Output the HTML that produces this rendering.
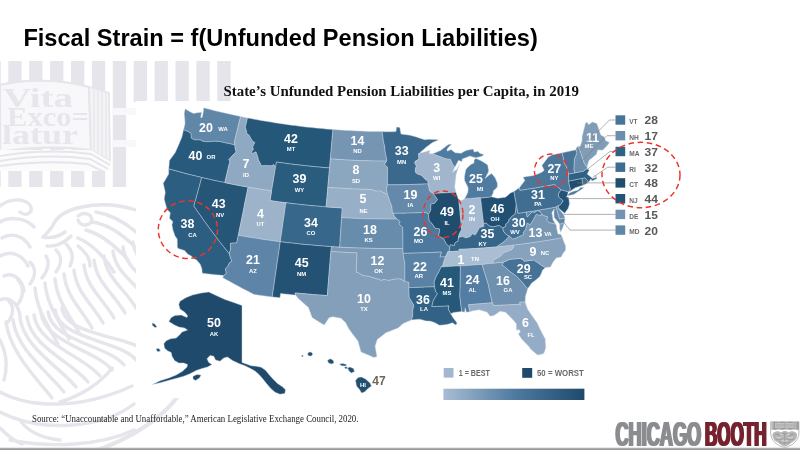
<!DOCTYPE html>
<html lang="en"><head><meta charset="utf-8"><title>Fiscal Strain = f(Unfunded Pension Liabilities)</title>
<style>
html,body{margin:0;padding:0;background:#fff}
body{width:800px;height:450px;overflow:hidden;position:relative}
svg{position:absolute;left:0;top:0;display:block}
#logo text{font-weight:bold;font-size:34.2px}
text{font-family:"Liberation Sans",sans-serif}
.n{font-weight:bold;font-size:12.4px;fill:#fff;text-anchor:middle}
.a{font-size:5.9px;font-weight:bold;fill:#fff;text-anchor:middle}
.sn{font-weight:bold;font-size:11px;fill:#595959}
.sa{font-weight:bold;font-size:6.6px;fill:#6a6a6a}
.lg{font-weight:bold;font-size:8.6px;fill:#6a6a6a}
.st path{stroke:#c9d5e1;stroke-width:.45;stroke-linejoin:round}
.wmt{font-family:'Liberation Serif',serif;font-weight:bold;font-size:27px;fill:#e6e6ec}
.ld{fill:none;stroke:#7a7a7a;stroke-width:.6}
.rd{fill:none;stroke:#ec352c;stroke-width:1.45;stroke-dasharray:5.6 3.6}
</style></head><body>
<svg width="800" height="450" viewBox="0 0 800 450">
<defs>
<pattern id="hatch" x="8.3" y="0" width="20.9" height="10" patternUnits="userSpaceOnUse"><rect x="0" y="0" width="13.3" height="10" fill="#e8e8ee"/></pattern>
<linearGradient id="bar" x1="0" x2="1" y1="0" y2="0"><stop offset="0" stop-color="#a9bdd3"/><stop offset=".5" stop-color="#507ba0"/><stop offset="1" stop-color="#1f4a6b"/></linearGradient>
<linearGradient id="foot" x1="0" x2="0" y1="0" y2="1"><stop offset="0" stop-color="#c9c9c9"/><stop offset=".5" stop-color="#a2a2a2"/><stop offset="1" stop-color="#969696"/></linearGradient>
<pattern id="ch" x="770.7" y="0" width="1.15" height="8" patternUnits="userSpaceOnUse"><rect width="1.15" height="8" fill="#cdcdcd"/><rect width=".55" height="8" fill="#949494"/></pattern>
<filter id="fat" x="-2%" y="-5%" width="104%" height="110%"><feMorphology operator="dilate" radius="1 0"/></filter>
</defs>
<rect width="800" height="450" fill="#fff"/>
<g id="wm">
<rect x="0" y="61" width="0.8" height="126" fill="#e5e5eb"/>
<rect x="8.3" y="61" width="13.3" height="126" fill="#e5e5eb"/>
<rect x="29.2" y="61" width="13.3" height="126" fill="#e5e5eb"/>
<rect x="50.1" y="61" width="13.3" height="126" fill="#e5e5eb"/>
<rect x="71.0" y="61" width="13.3" height="126" fill="#e5e5eb"/>
<rect x="91.9" y="61" width="13.3" height="126" fill="#e5e5eb"/>
<rect x="112.8" y="61" width="13.3" height="126" fill="#e5e5eb"/>
<rect x="133.7" y="61" width="13.3" height="41" fill="#e5e5eb"/>
<rect x="154.6" y="61" width="13.3" height="41" fill="#e5e5eb"/>
<rect x="175.5" y="61" width="13.3" height="41" fill="#e5e5eb"/>
<rect x="196.4" y="61" width="13.3" height="41" fill="#e5e5eb"/>
<rect x="217.3" y="61" width="13.3" height="41" fill="#e5e5eb"/>
<path d="M0,85 C25,79 60,79 89,87 L91,150 C60,146 30,147 0,152 Z" fill="#f8f8fa" stroke="#e5e5eb" stroke-width="2.2"/>
<path d="M89,87 L109,93 L110,161 L91,150 Z" fill="#f4f4f7" stroke="#e5e5eb" stroke-width="1.8"/>
<path d="M94,90V152M98,91V154M102,92V156M106,93V158" fill="none" stroke="#e5e5eb" stroke-width="1.3"/>
<path d="M0,150 L91,150 L110,161 L110,171 L0,171 Z" fill="#fbfbfc"/>
<path d="M0,156 C30,151 60,150 91,154 L110,165 M0,161 C30,156 60,155 90,159 L108,169 M0,166 C30,162 60,161 88,164 L104,172" fill="none" stroke="#e5e5eb" stroke-width="2"/>
<rect x="112" y="108" width="24" height="7" fill="#f8f8fa"/><rect x="112" y="140" width="24" height="7" fill="#f8f8fa"/>
<text class="wmt" x="3" y="107" textLength="70" lengthAdjust="spacingAndGlyphs">Vita</text>
<text class="wmt" x="7" y="125.5" textLength="82" lengthAdjust="spacingAndGlyphs">Exco=</text>
<text class="wmt" x="2" y="144" textLength="76" lengthAdjust="spacingAndGlyphs">latur</text>
<g fill="none" stroke="#e5e5eb" stroke-width="3.4" stroke-linecap="round" stroke-linejoin="round">
<path d="M43,237 C48,233 50,229 52,227 C56,217 66,210 82,207 C100,203 120,205 136,210"/>
<path d="M43,237 C52,239 58,237 65,232 M47,246 C56,247 64,243 71,236"/>
<path d="M78,216 C84,211 92,214 92,221 C88,227 80,226 78,220"/>
<path d="M96,212 C108,214 122,220 136,232 M92,222 C106,224 120,232 134,246 M86,230 C100,234 114,244 128,260 M78,238 C92,244 104,256 114,272"/>
<path d="M66,244 C72,250 74,258 70,266 M56,250 C62,256 62,264 56,272 M78,246 C86,252 90,258 90,266 M46,256 C50,262 48,270 42,278 M30,262 C36,268 36,276 30,284 M18,280 C24,286 24,296 18,304 M8,300 C14,306 14,314 8,322"/>
<path d="M0,206 C10,198 24,198 30,205 C34,213 26,217 20,212 M0,222 C10,216 26,218 34,227 M2,238 C12,232 24,236 30,247 M0,256 C10,250 22,254 28,266 M4,276 C12,272 22,278 24,291 M0,300 C8,296 18,302 20,316"/>
<path d="M35,288 C37,310 48,326 58,344"/>
<path d="M45,283 C47,305 59,321 69,339"/>
<path d="M55,279 C57,301 70,316 80,334"/>
<path d="M64,274 C66,296 82,310 92,328"/>
<path d="M74,270 C76,292 93,305 103,323"/>
<path d="M84,265 C86,287 104,300 114,318"/>
<path d="M94,260 C96,282 115,295 125,313"/>
<path d="M104,256 C106,278 126,290 136,308"/>
<path d="M113,251 C115,273 138,284 148,302"/>
<path d="M123,247 C125,269 149,279 159,297"/>
<path d="M133,242 C135,264 160,274 170,292"/>
<path d="M6,322 C10,352 36,378 52,398"/>
<path d="M13,320 C17,350 48,372 64,392"/>
<path d="M20,318 C24,348 60,367 76,387"/>
<path d="M27,317 C31,347 72,362 88,382"/>
<path d="M34,315 C38,345 84,356 100,376"/>
<path d="M41,313 C45,343 96,350 112,370"/>
<path d="M48,312 C52,342 108,345 124,365"/>
<path d="M55,310 C59,340 120,340 136,360"/>
<path d="M62,308 C66,338 132,334 148,354"/>
<path d="M0,392 C30,408 80,410 132,386 M0,412 C40,432 100,430 134,404 M10,440 C50,448 100,446 134,430 M60,402 C80,396 100,384 112,368 M20,420 C26,430 40,438 60,440 M0,340 C6,352 8,366 4,380 M0,428 C6,434 12,440 22,444"/>
<path d="M178,396 C164,416 134,438 92,452" stroke-width="4"/>
</g>
</g>
<rect x="136" y="101" width="484" height="297" fill="#fff"/>
<text x="23.4" y="46" style="font-weight:bold;font-size:24.3px;fill:#000" textLength="514.4" lengthAdjust="spacingAndGlyphs">Fiscal Strain = f(Unfunded Pension Liabilities)</text>
<text x="223.5" y="96" style="font-family:'Liberation Serif',serif;font-weight:bold;font-size:15.4px;fill:#111" textLength="355.5" lengthAdjust="spacingAndGlyphs">State’s Unfunded Pension Liabilities per Capita, in 2019</text>
<g class="st">
<path d="M203.8,107.8 203.3,111.7 202.8,114.5 202.2,117.4 200.7,117.5 201.1,114.8 201.5,112.2 197.7,112.7 195.7,113.1 193.7,113.6 191.4,112.4 189.1,111.3 187.1,110.1 185.1,108.9 184.2,113.4 184.5,116.5 184.8,119.6 185.0,123.7 184.3,126.8 183.5,129.8 185.7,130.7 188.0,131.6 190.9,133.4 191.1,138.0 194.1,139.8 197.2,139.9 200.3,139.9 203.1,141.4 205.4,141.6 207.7,141.7 211.2,141.5 214.8,141.2 217.2,141.4 219.5,141.5 222.6,142.2 225.6,142.9 228.6,143.5 231.6,144.2 234.7,144.8 234.7,140.6 235.7,136.6 236.7,132.6 237.7,128.5 238.6,124.5 239.6,120.5 240.6,116.5 237.2,115.7 233.8,115.0 230.5,114.3 227.1,113.5 223.8,112.8 220.4,112.0 217.1,111.2 213.7,110.4 210.4,109.5 207.1,108.7Z" fill="#6187a8"/>
<path d="M183.5,129.8 185.7,130.7 188.0,131.6 190.9,133.4 191.1,138.0 194.1,139.8 197.2,139.9 200.3,139.9 203.1,141.4 205.4,141.6 207.7,141.7 211.2,141.5 214.8,141.2 217.2,141.4 219.5,141.5 222.6,142.2 225.6,142.9 228.6,143.5 231.6,144.2 234.7,144.8 235.4,148.9 236.2,152.1 232.7,155.3 230.8,157.4 228.9,159.5 230.0,161.7 228.9,165.2 227.9,169.6 226.9,173.9 225.8,178.3 224.8,182.6 220.9,181.8 217.1,181.0 213.2,180.2 209.4,179.3 205.6,178.4 201.7,177.5 198.1,176.6 194.4,175.7 190.7,174.8 187.0,173.9 183.4,172.9 179.7,171.9 176.0,170.9 172.4,169.9 168.7,168.9 169.1,164.7 169.4,160.5 172.4,156.5 175.3,152.4 176.9,148.8 178.5,145.2 180.2,141.1 181.9,137.0 182.7,133.4Z" fill="#275a7c"/>
<path d="M168.7,168.9 168.7,171.5 168.7,174.0 166.9,177.1 165.1,180.2 163.2,183.2 164.3,187.9 165.3,192.5 164.7,195.7 164.2,198.9 165.5,204.1 167.0,209.4 168.6,211.1 170.3,212.8 169.9,215.5 169.5,218.2 171.2,219.9 172.9,221.7 171.9,225.0 172.5,227.7 173.0,230.3 174.0,233.1 175.0,235.9 177.2,239.0 177.3,242.9 177.3,246.7 178.0,248.4 181.3,249.4 184.5,250.4 186.2,252.4 188.0,254.3 191.2,256.0 194.1,258.7 196.6,259.9 198.3,262.0 200.1,264.0 201.8,268.4 202.3,273.2 206.6,273.7 210.9,274.2 215.3,274.7 219.6,275.1 223.9,275.6 226.4,273.2 225.4,269.0 227.8,266.5 229.5,262.8 232.0,261.2 230.5,258.0 229.3,253.7 225.9,249.5 222.5,245.2 219.1,240.9 215.8,236.5 212.6,232.2 209.4,227.9 206.2,223.5 203.1,219.2 200.0,214.8 196.9,210.4 193.9,206.0 195.0,201.9 196.2,197.9 197.3,193.8 198.4,189.7 199.5,185.7 200.6,181.6 201.7,177.5 198.1,176.6 194.4,175.7 190.7,174.8 187.0,173.9 183.4,172.9 179.7,171.9 176.0,170.9 172.4,169.9Z" fill="#2c5e81"/>
<path d="M201.7,177.5 200.6,181.6 199.5,185.7 198.4,189.7 197.3,193.8 196.2,197.9 195.0,201.9 193.9,206.0 196.9,210.4 200.0,214.8 203.1,219.2 206.2,223.5 209.4,227.9 212.6,232.2 215.8,236.5 219.1,240.9 222.5,245.2 225.9,249.5 229.3,253.7 229.9,251.4 230.6,249.0 230.5,246.2 230.4,243.4 233.6,243.0 236.7,243.1 237.5,239.2 238.3,235.3 239.2,230.9 240.1,226.6 241.0,222.2 241.9,217.8 242.8,213.4 243.7,209.0 244.5,204.6 245.4,200.3 246.3,195.9 247.2,191.5 248.1,187.1 244.2,186.4 240.3,185.7 236.4,185.0 232.5,184.2 228.6,183.4 224.8,182.6 220.9,181.8 217.1,181.0 213.2,180.2 209.4,179.3 205.6,178.4Z" fill="#255577"/>
<path d="M240.6,116.5 239.6,120.5 238.6,124.5 237.7,128.5 236.7,132.6 235.7,136.6 234.7,140.6 234.7,144.8 235.4,148.9 236.2,152.1 232.7,155.3 230.8,157.4 228.9,159.5 230.0,161.7 228.9,165.2 227.9,169.6 226.9,173.9 225.8,178.3 224.8,182.6 228.6,183.4 232.5,184.2 236.4,185.0 240.3,185.7 244.2,186.4 248.1,187.1 252.0,187.8 255.9,188.5 259.8,189.1 263.8,189.7 267.7,190.3 271.6,190.9 272.4,186.1 273.2,181.3 274.0,176.6 274.8,171.8 275.6,167.0 273.4,164.3 272.3,165.8 269.2,165.6 266.2,165.4 264.0,165.5 261.8,165.7 260.9,164.5 258.3,159.6 258.2,158.1 257.1,155.0 256.0,151.8 252.6,153.2 251.2,152.5 253.4,149.4 252.8,146.8 253.8,144.6 254.9,142.3 252.8,141.4 251.0,138.4 249.2,135.3 246.3,132.8 246.9,131.9 245.3,127.2 246.1,124.1 246.8,121.0 247.5,117.9 244.0,117.2Z" fill="#90a9c2"/>
<path d="M247.5,117.9 246.8,121.0 246.1,124.1 245.3,127.2 246.9,131.9 246.3,132.8 249.2,135.3 251.0,138.4 252.8,141.4 254.9,142.3 253.8,144.6 252.8,146.8 253.4,149.4 251.2,152.5 252.6,153.2 256.0,151.8 257.1,155.0 258.2,158.1 258.3,159.6 260.9,164.5 261.8,165.7 264.0,165.5 266.2,165.4 269.2,165.6 272.3,165.8 273.4,164.3 275.6,167.0 276.0,164.5 276.5,162.0 280.0,162.5 283.5,163.0 287.0,163.5 290.6,164.0 294.1,164.4 297.7,164.8 301.2,165.2 304.7,165.6 308.3,166.0 311.8,166.4 315.4,166.7 318.9,167.1 322.5,167.4 326.0,167.7 329.6,167.9 329.9,163.6 330.3,159.4 330.7,155.1 331.1,150.8 331.5,146.5 331.8,142.3 332.2,138.0 332.6,133.7 333.0,129.5 329.5,129.2 326.1,129.0 322.6,128.6 319.2,128.3 315.7,128.0 312.3,127.6 308.9,127.3 305.4,126.9 302.0,126.5 298.6,126.1 295.2,125.6 291.7,125.2 288.3,124.7 284.9,124.2 281.5,123.7 278.1,123.2 274.6,122.7 271.2,122.1 267.8,121.6 264.4,121.0 261.0,120.4 257.6,119.8 254.2,119.2 250.9,118.5Z" fill="#255779"/>
<path d="M276.5,162.0 280.0,162.5 283.5,163.0 287.0,163.5 290.6,164.0 294.1,164.4 297.7,164.8 301.2,165.2 304.7,165.6 308.3,166.0 311.8,166.4 315.4,166.7 318.9,167.1 322.5,167.4 326.0,167.7 329.6,167.9 329.2,172.2 328.8,176.6 328.4,180.9 328.0,185.2 327.7,189.5 327.3,193.8 326.9,198.2 326.5,202.5 326.1,206.9 322.4,206.6 318.6,206.2 314.9,205.9 311.1,205.6 307.4,205.2 303.6,204.8 299.9,204.4 296.1,204.0 292.4,203.6 288.6,203.1 284.9,202.6 281.2,202.2 277.4,201.7 273.7,201.1 270.0,200.6 270.7,196.3 271.4,192.0 272.1,187.7 272.9,183.4 273.6,179.1 274.3,174.8 275.0,170.6 275.7,166.3Z" fill="#2a5c7e"/>
<path d="M248.1,187.1 252.0,187.8 255.9,188.5 259.8,189.1 263.8,189.7 267.7,190.3 271.6,190.9 271.1,194.1 270.5,197.4 270.0,200.6 273.2,201.1 276.4,201.5 279.6,201.9 282.8,202.4 286.0,202.8 285.3,207.1 284.7,211.4 284.1,215.7 283.4,220.1 282.8,224.4 282.2,228.7 281.6,233.0 280.9,237.4 280.3,241.7 276.1,241.2 271.9,240.6 267.7,240.0 263.5,239.4 259.3,238.8 255.1,238.1 250.9,237.5 246.7,236.8 242.5,236.1 238.3,235.3 239.2,230.9 240.1,226.6 241.0,222.2 241.9,217.8 242.8,213.4 243.7,209.0 244.5,204.6 245.4,200.3 246.3,195.9 247.2,191.5Z" fill="#9cb3ca"/>
<path d="M286.0,202.8 289.7,203.2 293.4,203.7 297.2,204.1 300.9,204.5 304.7,204.9 308.4,205.3 312.2,205.7 315.9,206.0 319.7,206.3 323.4,206.6 327.2,206.9 331.0,207.2 334.7,207.5 338.5,207.7 342.2,207.9 342.0,212.3 341.7,216.6 341.4,221.0 341.1,225.3 340.8,229.7 340.5,234.1 340.2,238.4 340.0,242.8 339.7,247.1 335.7,246.9 331.7,246.6 327.8,246.4 323.8,246.1 319.8,245.8 315.9,245.4 311.9,245.1 307.9,244.7 304.0,244.4 300.0,244.0 296.1,243.5 292.1,243.1 288.2,242.7 284.2,242.2 280.3,241.7 280.9,237.4 281.6,233.0 282.2,228.7 282.8,224.4 283.4,220.1 284.1,215.7 284.7,211.4 285.3,207.1Z" fill="#37678a"/>
<path d="M238.3,235.3 242.5,236.1 246.7,236.8 250.9,237.5 255.1,238.1 259.3,238.8 263.5,239.4 267.7,240.0 271.9,240.6 276.1,241.2 280.3,241.7 279.6,246.3 279.0,250.9 278.3,255.5 277.6,260.1 276.9,264.7 276.3,269.3 275.6,273.9 274.9,278.5 274.3,283.1 273.6,287.7 272.9,292.3 272.3,296.9 268.6,296.4 264.9,295.9 261.3,295.4 257.6,294.9 254.0,294.4 250.0,292.3 246.0,290.3 242.0,288.2 238.1,286.1 234.2,284.0 230.3,281.8 226.4,279.7 222.6,277.5 223.9,275.6 226.4,273.2 225.4,269.0 227.8,266.5 229.5,262.8 232.0,261.2 230.5,258.0 229.3,253.7 229.9,251.4 230.6,249.0 230.5,246.2 230.4,243.4 233.6,243.0 236.7,243.1 237.5,239.2Z" fill="#5e85a7"/>
<path d="M280.3,241.7 284.2,242.2 288.2,242.7 292.1,243.1 296.0,243.5 300.0,244.0 303.9,244.4 307.9,244.7 311.8,245.1 315.8,245.4 319.7,245.8 323.7,246.1 327.6,246.4 331.6,246.6 331.2,249.1 330.9,251.5 330.5,255.9 330.2,260.3 329.8,264.7 329.4,269.2 329.1,273.6 328.7,278.0 328.4,282.4 328.0,286.8 327.7,291.2 327.3,295.6 323.3,295.3 319.2,295.0 315.2,294.7 311.2,294.4 307.2,294.0 303.1,293.6 299.1,293.3 295.1,292.9 295.7,295.1 291.9,294.7 288.1,294.3 284.3,293.9 280.6,293.4 280.0,297.8 276.1,297.3 272.3,296.9 272.9,292.3 273.6,287.7 274.3,283.1 274.9,278.5 275.6,273.9 276.3,269.3 276.9,264.7 277.6,260.1 278.3,255.5 279.0,250.9 279.6,246.3Z" fill="#235274"/>
<path d="M333.0,129.5 336.5,129.8 340.0,130.0 343.5,130.2 347.0,130.5 350.5,130.6 354.0,130.8 357.5,131.0 361.0,131.1 364.5,131.2 368.0,131.4 371.5,131.5 375.0,131.5 378.5,131.6 382.0,131.6 382.5,134.0 382.9,136.4 383.2,139.2 383.4,141.9 384.7,146.0 384.9,149.0 385.2,152.0 385.8,155.0 386.5,157.9 386.8,161.1 383.0,161.1 379.2,161.0 375.5,161.0 371.7,160.9 367.9,160.8 364.2,160.7 360.4,160.6 356.7,160.4 352.9,160.3 349.1,160.1 345.4,159.9 341.6,159.6 337.9,159.4 334.1,159.1 330.4,158.9 330.7,154.6 331.1,150.4 331.5,146.2 331.9,142.0 332.2,137.9 332.6,133.7Z" fill="#7595b2"/>
<path d="M330.4,158.9 334.1,159.1 337.9,159.4 341.6,159.6 345.4,159.9 349.1,160.1 352.9,160.3 356.7,160.4 360.4,160.6 364.2,160.7 367.9,160.8 371.7,160.9 375.5,161.0 379.2,161.0 383.0,161.1 386.8,161.1 384.6,164.4 387.6,167.3 387.6,171.7 387.6,176.1 387.5,180.4 387.5,184.8 386.4,188.7 386.9,191.7 387.5,194.6 385.5,193.6 383.2,192.4 380.8,191.1 378.5,191.1 376.1,191.1 373.8,190.3 371.4,189.5 367.8,189.4 364.1,189.3 360.5,189.2 356.9,189.1 353.2,188.9 349.6,188.7 346.0,188.5 342.4,188.3 338.7,188.1 335.1,187.9 331.5,187.6 327.8,187.4 328.3,182.6 328.7,177.8 329.1,173.1 329.5,168.3 330.0,163.6Z" fill="#8ba6bf"/>
<path d="M327.8,187.4 331.5,187.6 335.1,187.9 338.7,188.1 342.4,188.3 346.0,188.5 349.6,188.7 353.2,188.9 356.9,189.1 360.5,189.2 364.1,189.3 367.8,189.4 371.4,189.5 373.8,190.3 376.1,191.1 378.5,191.1 380.8,191.1 383.2,192.4 385.5,193.6 387.5,194.6 388.7,197.5 389.5,200.0 390.3,202.4 391.9,206.3 392.1,208.8 392.3,211.2 393.0,213.4 394.8,216.6 396.9,219.0 392.9,219.1 389.0,219.1 385.0,219.1 381.1,219.0 377.1,219.0 373.2,218.9 369.2,218.8 365.3,218.7 361.3,218.6 357.4,218.5 353.4,218.3 349.5,218.1 345.6,217.9 341.6,217.7 341.8,214.5 342.0,211.2 342.2,207.9 339.0,207.7 335.8,207.5 332.6,207.3 329.3,207.1 326.1,206.9 326.5,202.9 326.8,199.0 327.2,195.1 327.5,191.2Z" fill="#98b0c7"/>
<path d="M341.6,217.7 345.6,217.9 349.5,218.1 353.4,218.3 357.4,218.5 361.3,218.6 365.3,218.7 369.2,218.8 373.2,218.9 377.1,219.0 381.1,219.0 385.0,219.1 389.0,219.1 392.9,219.1 396.9,219.0 400.2,221.5 399.0,223.9 402.8,227.6 402.8,231.8 402.9,235.9 402.9,240.1 403.0,244.3 403.0,248.4 398.8,248.5 394.5,248.5 390.3,248.5 386.1,248.5 381.9,248.5 377.7,248.5 373.4,248.4 369.2,248.3 365.0,248.2 360.8,248.1 356.5,247.9 352.3,247.8 348.1,247.6 343.9,247.4 339.7,247.1 340.0,242.9 340.2,238.7 340.5,234.5 340.8,230.3 341.1,226.1 341.3,221.9Z" fill="#688cac"/>
<path d="M331.6,246.6 335.8,246.9 340.0,247.2 344.2,247.4 348.4,247.6 352.6,247.8 356.8,247.9 361.0,248.1 365.2,248.2 369.4,248.3 373.6,248.4 377.8,248.5 382.0,248.5 386.2,248.5 390.4,248.5 394.6,248.5 398.8,248.5 403.0,248.4 403.0,250.9 403.1,253.3 403.7,256.9 404.3,260.5 404.9,264.1 404.9,268.5 404.9,272.8 404.9,277.1 404.9,281.4 402.5,280.2 400.2,278.9 398.0,279.0 395.8,279.0 392.2,279.7 388.7,280.5 386.4,280.0 384.2,279.5 381.1,280.4 377.1,278.9 373.6,277.9 371.0,277.1 368.3,276.3 365.7,276.0 363.0,275.7 359.6,273.6 356.1,271.9 356.3,267.2 356.5,262.4 356.7,257.6 356.9,252.9 353.2,252.7 349.5,252.6 345.8,252.4 342.0,252.2 338.3,252.0 334.6,251.8 330.9,251.5 331.2,249.1Z" fill="#7c9ab6"/>
<path d="M330.9,251.5 334.6,251.8 338.3,252.0 342.0,252.2 345.8,252.4 349.5,252.6 353.2,252.7 356.9,252.9 356.7,257.6 356.5,262.4 356.3,267.2 356.1,271.9 359.6,273.6 363.0,275.7 365.7,276.0 368.3,276.3 371.0,277.1 373.6,277.9 377.1,278.9 381.1,280.4 384.2,279.5 386.4,280.0 388.7,280.5 392.2,279.7 395.8,279.0 398.0,279.0 400.2,278.9 402.5,280.2 404.9,281.4 408.8,282.2 408.9,284.9 408.9,287.6 409.0,290.9 409.1,294.2 409.2,297.4 411.5,301.3 413.9,305.2 413.3,308.1 412.6,311.1 412.7,313.5 412.8,315.9 411.5,319.9 407.3,321.7 403.2,323.5 400.6,325.7 398.1,327.9 394.0,329.6 389.9,331.2 385.8,332.8 381.5,336.2 377.2,339.6 376.1,343.0 375.1,346.3 375.7,349.7 376.3,353.1 376.9,356.5 374.0,357.5 371.1,356.2 368.2,354.9 364.6,353.4 361.0,351.9 360.0,348.3 359.0,344.7 358.0,341.1 354.9,337.1 351.9,333.1 349.0,329.1 347.2,325.8 345.5,322.6 343.3,320.4 341.1,318.2 336.9,317.5 332.8,316.7 329.0,317.8 326.6,321.4 324.2,325.1 320.1,322.6 316.1,320.1 312.1,317.5 310.9,314.1 309.7,310.8 308.4,307.4 305.0,304.5 301.7,301.5 298.3,298.6 295.7,295.1 295.1,292.9 299.1,293.3 303.1,293.6 307.2,294.0 311.2,294.4 315.2,294.7 319.2,295.0 323.3,295.3 327.3,295.6 327.7,291.2 328.0,286.8 328.4,282.4 328.7,278.0 329.1,273.6 329.4,269.2 329.8,264.7 330.2,260.3 330.5,255.9Z" fill="#839fb9"/>
<path d="M382.0,131.6 385.5,131.7 389.0,131.7 392.5,131.7 395.9,131.6 396.3,129.2 396.6,126.9 399.8,127.6 400.4,130.8 401.0,134.0 403.9,134.4 406.8,134.8 409.8,135.2 413.0,136.1 416.4,136.9 419.1,137.9 421.8,138.8 424.5,139.7 426.9,139.5 429.2,139.2 432.1,139.4 434.9,139.6 437.7,139.8 438.4,139.9 435.5,141.2 432.5,142.4 429.5,144.7 426.4,147.0 423.1,149.9 420.0,152.5 420.8,153.1 418.6,153.6 418.8,156.4 418.9,159.3 415.5,161.0 414.7,162.8 416.4,165.9 415.4,169.3 415.5,172.2 417.5,173.9 419.7,174.6 421.8,175.4 424.7,178.7 427.9,180.9 428.3,183.9 424.6,184.0 420.9,184.2 417.2,184.3 413.5,184.4 409.8,184.6 406.1,184.6 402.4,184.7 398.7,184.8 395.0,184.8 391.2,184.8 387.5,184.8 387.5,180.4 387.6,176.1 387.6,171.7 387.6,167.3 384.6,164.4 386.8,161.1 386.5,157.9 385.8,155.0 385.2,152.0 384.9,149.0 384.7,146.0 383.4,141.9 383.2,139.2 382.9,136.4 382.5,134.0Z" fill="#3a698d"/>
<path d="M387.5,184.8 391.2,184.8 395.0,184.8 398.7,184.8 402.4,184.7 406.1,184.6 409.8,184.6 413.5,184.4 417.2,184.3 420.9,184.2 424.6,184.0 428.3,183.9 429.1,188.2 429.7,191.1 433.4,193.4 435.5,196.5 437.6,199.6 434.8,203.2 432.9,203.7 430.9,204.3 430.8,207.2 430.8,210.2 428.5,214.4 425.8,212.4 422.2,212.5 418.5,212.7 414.9,212.9 411.2,213.0 407.6,213.1 403.9,213.2 400.3,213.3 396.6,213.3 393.0,213.4 392.3,211.2 392.1,208.8 391.9,206.3 390.3,202.4 389.5,200.0 388.7,197.5 387.5,194.6 386.9,191.7 386.4,188.7Z" fill="#6489aa"/>
<path d="M393.0,213.4 396.6,213.3 400.3,213.3 403.9,213.2 407.6,213.1 411.2,213.0 414.9,212.9 418.5,212.7 422.2,212.5 425.8,212.4 428.5,214.4 428.9,218.8 429.4,221.0 432.0,223.4 433.6,225.8 435.2,228.2 437.3,228.5 439.4,228.7 439.7,231.2 438.6,235.5 441.7,237.8 443.4,238.2 444.9,241.1 446.4,244.0 449.8,246.9 449.5,250.7 447.8,251.8 446.7,254.3 445.6,256.8 442.7,256.9 439.9,257.1 440.6,254.6 441.4,252.1 437.2,252.2 432.9,252.4 428.6,252.6 424.4,252.7 420.1,252.9 415.9,253.0 411.6,253.2 407.3,253.3 403.1,253.3 403.0,250.9 403.0,248.4 403.0,244.3 402.9,240.1 402.9,235.9 402.8,231.8 402.8,227.6 399.0,223.9 400.2,221.5 396.9,219.0 394.8,216.6Z" fill="#4d799e"/>
<path d="M403.1,253.3 407.3,253.3 411.6,253.2 415.9,253.0 420.1,252.9 424.4,252.7 428.6,252.6 432.9,252.4 437.2,252.2 441.4,252.1 440.6,254.6 439.9,257.1 442.7,256.9 445.6,256.8 444.7,259.3 443.8,261.8 442.8,265.8 441.1,266.9 440.0,269.4 438.8,271.9 437.4,274.4 436.0,276.9 435.1,279.4 434.1,281.9 434.4,284.3 434.6,286.8 430.4,286.9 426.1,287.1 421.8,287.3 417.5,287.4 413.2,287.5 408.9,287.6 408.9,284.9 408.8,282.2 404.9,281.4 404.9,277.1 404.9,272.8 404.9,268.5 404.9,264.1 404.3,260.5 403.7,256.9Z" fill="#5a82a5"/>
<path d="M408.9,287.6 413.2,287.5 417.5,287.4 421.8,287.3 426.1,287.1 430.4,286.9 434.6,286.8 435.1,289.2 435.6,291.7 437.5,293.6 435.4,297.1 433.3,300.6 432.6,303.5 431.8,306.5 436.1,306.4 440.4,306.2 444.7,306.0 449.0,305.8 448.3,309.1 450.8,313.8 452.9,317.4 455.0,320.2 457.1,323.0 455.9,325.1 452.4,322.8 449.6,323.7 446.9,324.5 443.1,324.9 439.4,325.3 435.5,323.0 433.1,322.1 430.7,321.2 428.4,321.0 426.0,320.9 422.7,320.0 419.4,319.2 415.5,319.5 411.5,319.9 412.8,315.9 412.7,313.5 412.6,311.1 413.3,308.1 413.9,305.2 411.5,301.3 409.2,297.4 409.1,294.2 409.0,290.9Z" fill="#326386"/>
<path d="M420.8,153.1 423.7,152.2 426.6,151.4 429.9,150.2 429.0,153.7 432.6,153.8 436.0,155.1 439.4,156.3 442.8,157.5 445.1,158.5 447.8,158.9 450.5,159.2 451.7,161.9 452.9,164.6 455.0,166.9 453.7,169.6 452.5,172.4 454.6,170.8 456.8,169.2 459.4,164.6 458.5,167.1 457.6,169.6 456.9,172.1 456.1,174.6 455.8,177.3 455.5,180.0 455.1,183.5 454.6,186.9 455.3,189.6 455.9,192.2 452.2,192.5 448.4,192.7 444.7,192.9 440.9,193.1 437.2,193.3 433.4,193.4 429.7,191.1 429.1,188.2 428.3,183.9 427.9,180.9 424.7,178.7 421.8,175.4 419.7,174.6 417.5,173.9 415.5,172.2 415.4,169.3 416.4,165.9 414.7,162.8 415.5,161.0 418.9,159.3 418.8,156.4 418.6,153.6Z" fill="#a1b6cd"/>
<path d="M433.4,193.4 437.2,193.3 440.9,193.1 444.7,192.9 448.4,192.7 452.2,192.5 455.9,192.2 457.0,195.3 458.1,198.5 458.9,199.9 459.3,204.5 459.8,209.1 460.2,213.7 460.6,218.3 461.1,222.9 460.7,225.4 461.9,229.2 460.2,232.3 458.8,235.4 458.4,238.3 458.1,241.3 455.2,242.5 454.2,245.7 450.3,244.7 449.8,246.9 446.4,244.0 444.9,241.1 443.4,238.2 441.7,237.8 438.6,235.5 439.7,231.2 439.4,228.7 437.3,228.5 435.2,228.2 433.6,225.8 432.0,223.4 429.4,221.0 428.9,218.8 428.5,214.4 430.8,210.2 430.8,207.2 430.9,204.3 432.9,203.7 434.8,203.2 437.6,199.6 435.5,196.5Z" fill="#204c6d"/>
<path d="M458.9,199.9 461.5,200.4 464.4,198.9 467.6,198.6 470.8,198.4 474.0,198.1 477.2,197.8 480.5,197.5 481.0,201.8 481.5,206.1 482.1,210.5 482.6,214.8 483.1,219.1 483.7,223.5 483.8,226.4 481.6,227.1 479.4,227.8 477.0,232.3 475.2,235.1 472.5,233.8 470.3,236.5 468.2,237.2 466.2,238.0 462.3,236.6 459.4,237.3 458.4,238.3 458.8,235.4 460.2,232.3 461.9,229.2 460.7,225.4 461.1,222.9 460.6,218.3 460.2,213.7 459.8,209.1 459.3,204.5Z" fill="#a5bad0"/>
<path d="M480.5,198.1 484.1,197.6 487.7,197.2 491.2,196.7 494.3,197.5 497.5,198.2 500.1,197.9 502.8,197.6 505.4,197.2 507.9,195.2 510.4,193.1 514.0,191.4 514.7,195.7 515.5,200.0 516.3,204.3 516.1,206.7 515.7,210.1 515.2,213.8 513.0,215.6 510.8,217.4 510.2,218.8 508.7,219.7 509.0,221.6 505.7,224.0 506.0,226.0 502.9,228.1 499.2,225.5 496.0,226.2 492.9,227.0 489.2,225.9 486.3,223.2 483.7,223.5 483.1,219.2 482.6,215.0 482.1,210.8 481.6,206.5 481.1,202.3Z" fill="#225072"/>
<path d="M464.4,198.9 467.6,198.6 470.8,198.4 474.0,198.1 477.2,197.8 480.5,197.5 480.5,198.1 484.1,197.6 487.7,197.2 491.2,196.7 493.1,193.3 493.5,190.6 495.0,189.6 497.3,186.9 497.4,183.4 496.3,180.6 495.1,177.8 491.7,173.5 488.5,175.6 486.8,177.0 485.0,178.4 487.5,173.7 488.7,171.1 488.2,168.0 487.7,164.9 484.4,162.8 481.0,160.7 478.4,159.6 475.8,158.5 474.1,159.9 474.0,162.9 470.8,164.6 468.9,166.3 467.0,167.9 465.7,169.9 465.1,173.2 464.5,176.4 464.5,180.3 466.0,183.4 467.6,186.4 468.2,188.8 467.8,192.3 465.9,196.4Z" fill="#507ba0"/>
<path d="M432.6,153.8 435.3,152.7 438.0,151.6 440.7,150.4 443.5,148.2 446.0,146.3 448.4,144.5 451.7,144.3 448.6,146.9 447.0,149.4 447.1,151.1 449.1,150.4 451.1,149.6 453.1,151.2 455.1,152.7 458.1,153.0 461.2,153.3 463.6,151.8 466.1,150.4 469.6,149.8 473.1,149.1 474.2,152.1 476.0,151.7 477.8,151.3 480.0,153.5 482.0,154.0 483.9,154.5 481.9,156.2 478.9,157.0 475.9,157.7 472.8,156.9 469.8,156.1 467.6,157.0 465.5,157.8 462.2,159.0 462.1,161.5 459.3,160.7 458.5,160.3 456.8,163.6 455.0,166.9 452.9,164.6 451.7,161.9 450.5,159.2 447.8,158.9 445.1,158.5 442.8,157.5 439.4,156.3 436.0,155.1Z" fill="#507ba0"/>
<path d="M449.8,246.9 450.3,244.7 454.2,245.7 455.2,242.5 458.1,241.3 458.4,238.3 459.4,237.3 462.3,236.6 466.2,238.0 468.2,237.2 470.3,236.5 472.5,233.8 475.2,235.1 477.0,232.3 479.4,227.8 481.6,227.1 483.8,226.4 483.7,223.5 486.3,223.2 489.2,225.9 492.9,227.0 496.0,226.2 499.2,225.5 502.9,228.1 503.4,231.2 506.5,234.8 509.5,236.0 506.9,238.8 504.2,241.6 500.4,244.2 496.5,246.9 492.4,247.3 488.2,247.6 484.0,247.9 479.9,248.2 475.7,248.5 471.6,248.7 467.4,248.9 463.2,249.2 459.0,249.3 459.2,251.1 455.4,251.3 451.6,251.6 447.8,251.8 449.5,250.7Z" fill="#356588"/>
<path d="M496.5,246.9 492.4,247.3 488.2,247.6 484.0,247.9 479.9,248.2 475.7,248.5 471.6,248.7 467.4,248.9 463.2,249.2 459.0,249.3 459.2,251.1 455.4,251.3 451.6,251.6 447.8,251.8 446.7,254.3 445.6,256.8 444.7,259.3 443.8,261.8 442.8,265.8 441.1,266.9 444.8,266.7 448.5,266.5 452.1,266.3 455.8,266.1 459.4,265.9 463.2,265.7 467.0,265.4 470.8,265.2 474.6,264.9 478.3,264.7 482.1,264.4 485.8,264.0 489.5,263.6 493.2,263.2 493.1,261.1 495.4,258.9 497.5,257.9 499.5,256.8 501.5,255.3 504.1,252.5 506.6,251.7 509.1,250.8 511.5,249.9 513.7,247.4 513.5,245.0 510.1,245.4 506.7,245.8 503.3,246.2 499.9,246.5Z" fill="#a9bdd3"/>
<path d="M434.6,286.8 434.4,284.3 434.1,281.9 435.1,279.4 436.0,276.9 437.4,274.4 438.8,271.9 440.0,269.4 441.1,266.9 444.8,266.7 448.5,266.5 452.1,266.3 455.8,266.1 459.4,265.9 460.4,266.8 460.4,270.8 460.3,274.7 460.3,278.7 460.2,282.6 460.2,286.5 460.0,289.8 459.9,293.1 459.8,296.4 460.3,300.2 460.7,304.0 461.2,307.7 461.7,311.5 457.6,312.0 453.5,312.5 450.8,313.8 448.3,309.1 449.0,305.8 444.7,306.0 440.4,306.2 436.1,306.4 431.8,306.5 432.6,303.5 433.3,300.6 435.4,297.1 437.5,293.6 435.6,291.7 435.1,289.2Z" fill="#26587a"/>
<path d="M461.7,311.5 461.2,307.7 460.7,304.0 460.3,300.2 459.8,296.4 459.9,293.1 460.0,289.8 460.2,286.5 460.2,282.6 460.3,278.7 460.3,274.7 460.4,270.8 460.4,266.8 459.4,265.9 463.2,265.7 467.0,265.4 470.8,265.2 474.6,264.9 478.3,264.7 482.1,264.4 483.3,268.4 484.6,272.5 485.8,276.5 487.1,280.6 488.3,284.6 489.0,287.9 489.6,291.1 490.4,294.3 491.1,297.4 491.7,300.1 492.3,302.7 488.3,303.1 484.4,303.4 480.4,303.8 476.4,304.1 472.5,304.4 468.5,304.7 469.2,308.2 469.9,311.7 466.4,312.2 465.1,307.9 464.6,312.3Z" fill="#537da2"/>
<path d="M482.1,264.4 485.8,264.0 489.5,263.6 493.2,263.2 496.7,262.8 500.2,262.4 503.7,262.0 502.0,265.1 504.4,266.4 507.0,268.8 509.6,271.2 512.9,273.5 516.2,275.9 519.2,279.0 522.2,282.0 525.2,286.1 527.8,288.4 526.7,292.2 525.5,296.0 525.3,299.0 525.1,302.0 522.3,302.1 519.5,302.2 520.5,305.5 518.5,304.3 514.4,304.6 510.3,304.8 506.2,305.0 502.1,305.2 498.0,305.4 493.9,305.5 492.3,302.7 491.7,300.1 491.1,297.4 490.4,294.3 489.6,291.1 489.0,287.9 488.3,284.6 487.1,280.6 485.8,276.5 484.6,272.5 483.3,268.4Z" fill="#6f91af"/>
<path d="M469.9,311.7 472.8,310.8 476.0,310.3 479.2,309.8 483.1,310.9 486.9,312.1 490.2,316.2 493.9,315.4 496.9,313.4 499.9,311.3 502.8,311.8 505.6,312.2 508.9,315.5 512.3,318.9 514.3,321.3 516.3,323.8 516.4,327.0 516.4,330.2 519.1,329.4 520.4,331.7 518.4,333.9 520.0,336.4 521.6,338.9 523.6,341.1 525.7,343.3 529.2,346.8 530.5,349.1 534.0,352.0 537.5,355.0 540.4,354.4 543.2,353.7 544.4,352.1 545.8,347.5 545.4,343.1 545.1,338.7 543.1,335.1 541.2,331.4 539.2,327.3 537.2,323.1 535.0,319.9 532.8,316.8 530.3,313.2 527.8,309.6 526.9,307.2 526.0,304.8 525.1,302.0 522.3,302.1 519.5,302.2 520.5,305.5 518.5,304.3 514.4,304.6 510.3,304.8 506.2,305.0 502.1,305.2 498.0,305.4 493.9,305.5 492.3,302.7 488.3,303.1 484.4,303.4 480.4,303.8 476.4,304.1 472.5,304.4 468.5,304.7 469.2,308.2Z" fill="#94acc5"/>
<path d="M527.8,288.4 525.2,286.1 522.2,282.0 519.2,279.0 516.2,275.9 512.9,273.5 509.6,271.2 507.0,268.8 504.4,266.4 502.0,265.1 503.7,262.0 505.4,261.3 507.7,260.3 510.0,259.3 513.7,259.0 517.5,258.6 521.3,258.3 521.4,259.3 522.4,258.7 524.0,261.2 527.2,260.8 530.5,260.4 533.8,260.0 537.6,262.6 541.4,265.2 545.3,267.7 542.6,270.1 541.1,273.9 539.8,276.6 537.7,278.4 535.5,280.2 533.5,281.7 531.5,283.3 529.3,286.5Z" fill="#457296"/>
<path d="M513.5,245.0 513.7,247.4 511.5,249.9 509.1,250.8 506.6,251.7 504.1,252.5 501.5,255.3 499.5,256.8 497.5,257.9 495.4,258.9 493.1,261.1 493.2,263.2 496.7,262.8 500.2,262.4 503.7,262.0 505.4,261.3 507.7,260.3 510.0,259.3 513.7,259.0 517.5,258.6 521.3,258.3 521.4,259.3 522.4,258.7 524.0,261.2 527.2,260.8 530.5,260.4 533.8,260.0 537.6,262.6 541.4,265.2 545.3,267.7 547.9,267.3 550.5,266.9 552.8,262.5 554.5,260.2 556.2,257.9 558.6,257.5 561.0,257.1 563.2,253.1 565.6,250.2 565.5,245.7 564.5,243.3 563.5,241.0 562.5,237.7 558.5,238.4 554.4,239.1 550.3,239.8 546.3,240.4 542.2,241.1 538.1,241.7 534.0,242.3 529.9,242.9 525.8,243.4 521.7,244.0 517.6,244.5Z" fill="#87a2bc"/>
<path d="M496.5,246.9 499.9,246.5 503.3,246.2 506.7,245.8 510.1,245.4 513.5,245.0 517.6,244.5 521.7,244.0 525.8,243.4 529.9,242.9 534.0,242.3 538.1,241.7 542.2,241.1 546.3,240.4 550.3,239.8 554.4,239.1 558.5,238.4 562.5,237.7 560.6,234.2 558.0,234.0 557.3,231.3 556.7,228.7 556.4,225.2 555.5,224.0 552.4,223.2 549.3,222.5 546.8,220.4 547.7,216.8 543.6,215.5 541.3,213.6 540.8,215.6 538.5,214.9 536.2,214.2 534.6,217.2 533.0,220.2 530.2,224.6 527.0,223.1 526.3,226.2 525.6,229.3 523.2,232.6 523.6,234.6 519.8,236.3 516.0,238.1 512.5,239.1 509.5,236.0 506.9,238.8 504.2,241.6 500.4,244.2Z" fill="#7998b4"/>
<path d="M564.4,222.4 563.5,225.3 562.6,228.1 560.6,232.3 559.7,228.6 559.6,224.1 561.2,223.8Z" fill="#7998b4"/>
<path d="M502.9,228.1 506.0,226.0 505.7,224.0 509.0,221.6 508.7,219.7 510.2,218.8 510.8,217.4 513.0,215.6 515.2,213.8 515.7,210.1 516.1,206.7 516.3,204.3 517.1,208.8 517.9,213.3 520.7,212.9 523.5,212.5 526.3,212.0 526.7,214.6 527.2,217.1 530.2,213.8 532.2,211.8 535.0,212.4 536.7,210.6 539.7,211.1 541.3,213.6 540.8,215.6 538.5,214.9 536.2,214.2 534.6,217.2 533.0,220.2 530.2,224.6 527.0,223.1 526.3,226.2 525.6,229.3 523.2,232.6 523.6,234.6 519.8,236.3 516.0,238.1 512.5,239.1 509.5,236.0 506.5,234.8 503.4,231.2Z" fill="#427094"/>
<path d="M541.3,213.6 543.6,215.5 547.7,216.8 546.8,220.4 549.3,222.5 552.4,223.2 555.5,224.0 553.0,219.8 552.4,215.4 551.8,212.5 554.4,209.0 553.9,212.6 554.1,215.1 554.2,217.6 557.7,221.5 559.6,224.1 561.2,223.8 564.4,222.4 565.0,218.1 562.3,218.5 559.6,219.0 558.4,215.0 557.3,211.0 556.1,207.0 552.4,207.7 548.6,208.4 544.9,209.0 541.2,209.7 537.5,210.3 533.8,210.9 530.0,211.5 526.3,212.0 526.7,214.6 527.2,217.1 530.2,213.8 532.2,211.8 535.0,212.4 536.7,210.6 539.7,211.1Z" fill="#6187a8"/>
<path d="M565.0,218.1 562.3,218.5 559.6,219.0 558.4,215.0 557.3,211.0 556.1,207.0 557.3,205.7 558.9,205.7 558.3,207.8 560.2,210.4 562.0,212.6 563.7,214.8Z" fill="#7293b1"/>
<path d="M514.0,191.4 514.7,195.7 515.5,200.0 516.3,204.3 517.1,208.8 517.9,213.3 520.7,212.9 523.5,212.5 526.3,212.0 530.0,211.5 533.8,210.9 537.5,210.3 541.2,209.7 544.9,209.0 548.6,208.4 552.4,207.7 556.1,207.0 557.3,205.7 558.9,205.7 560.9,204.3 563.3,200.8 558.6,196.9 558.4,193.9 561.0,189.7 557.1,186.4 554.4,184.4 550.5,185.2 546.7,185.9 542.9,186.6 539.1,187.2 535.3,187.9 531.4,188.5 527.6,189.1 523.7,189.7 519.9,190.3 519.4,187.7 516.7,189.5Z" fill="#406e92"/>
<path d="M561.0,189.7 558.4,193.9 558.6,196.9 563.3,200.8 560.9,204.3 558.9,205.7 558.3,207.8 561.0,210.3 564.7,213.3 566.4,210.8 568.1,208.4 569.5,204.0 569.1,200.6 568.6,197.2 566.5,197.1 567.8,194.8 568.1,191.7 564.5,190.7Z" fill="#245475"/>
<path d="M519.4,187.7 522.2,184.1 524.9,180.6 523.1,177.2 526.8,176.6 530.5,176.0 534.2,175.4 536.9,174.3 539.6,173.2 542.2,172.0 544.2,170.3 543.1,167.9 541.9,165.5 544.0,162.7 546.1,159.9 548.2,157.1 550.1,156.0 552.0,154.9 555.4,154.2 558.9,153.5 562.4,152.8 562.8,155.2 563.3,157.6 563.8,160.0 564.3,162.4 565.8,165.9 566.6,166.4 567.6,170.2 568.7,174.0 568.6,177.5 568.6,181.1 569.3,184.7 570.1,188.3 570.8,189.0 569.2,190.5 570.0,191.3 568.1,191.7 564.5,190.7 561.0,189.7 557.1,186.4 554.4,184.4 550.5,185.2 546.7,185.9 542.9,186.6 539.1,187.2 535.3,187.9 531.4,188.5 527.6,189.1 523.7,189.7 519.9,190.3Z" fill="#4b779b"/>
<path d="M568.0,195.8 570.9,195.1 573.7,194.4 576.6,192.6 579.4,190.8 581.7,189.2 584.0,187.6 580.2,187.6 578.4,190.0 576.1,190.7 573.7,191.3 571.7,192.1 569.6,192.9 568.3,194.2Z" fill="#4b779b"/>
<path d="M568.6,181.1 569.3,184.7 570.1,188.3 570.8,189.0 569.2,190.5 570.0,191.3 572.7,189.5 575.3,187.7 577.9,186.9 580.6,186.0 583.2,185.2 582.5,181.8 581.8,178.5 578.5,179.1 575.2,179.8 571.9,180.4Z" fill="#214d6e"/>
<path d="M583.2,185.2 585.9,184.1 587.9,182.6 588.5,182.2 587.3,180.4 585.0,177.7 581.8,178.5 582.5,181.8Z" fill="#3d6c8f"/>
<path d="M568.7,174.0 571.8,173.4 574.9,172.8 577.8,172.3 580.8,171.7 583.8,171.1 584.1,170.6 587.0,168.6 589.3,170.3 587.1,173.9 590.8,177.0 592.5,178.4 594.4,177.9 596.3,177.4 594.0,175.1 596.7,177.1 597.0,178.4 594.5,179.7 592.0,181.0 591.0,179.0 588.5,182.2 587.3,180.4 585.0,177.7 581.8,178.5 578.5,179.1 575.2,179.8 571.9,180.4 568.6,181.1 568.6,177.5Z" fill="#2f6183"/>
<path d="M562.4,152.8 565.8,152.0 569.2,151.3 572.7,150.5 576.1,149.7 576.8,153.6 575.6,156.4 574.4,159.2 574.3,163.2 574.1,166.3 574.0,169.3 574.9,172.8 571.8,173.4 568.7,174.0 567.6,170.2 566.6,166.4 565.8,165.9 564.3,162.4 563.8,160.0 563.3,157.6 562.8,155.2Z" fill="#487499"/>
<path d="M576.1,149.7 576.3,147.7 578.4,146.2 579.5,149.3 580.6,152.3 581.7,155.4 582.8,158.9 583.9,162.3 586.3,166.3 587.3,166.5 587.0,168.6 584.1,170.6 583.8,171.1 580.8,171.7 577.8,172.3 574.9,172.8 574.0,169.3 574.1,166.3 574.3,163.2 574.4,159.2 575.6,156.4 576.8,153.6Z" fill="#6b8ead"/>
<path d="M578.4,146.2 580.2,146.2 581.1,143.5 582.1,140.7 582.1,136.7 582.8,134.0 583.7,130.2 584.7,126.5 585.6,122.7 587.3,122.4 588.8,124.7 590.6,123.3 592.5,122.0 594.7,122.8 596.9,123.6 598.1,127.1 599.2,130.5 600.4,134.0 601.1,135.3 603.9,136.6 605.7,140.7 609.5,142.6 607.8,144.7 606.1,146.7 604.3,148.4 602.4,150.2 600.0,150.1 597.6,150.0 596.5,154.3 594.3,156.1 592.0,158.0 589.1,160.2 587.8,164.1 587.3,166.5 586.3,166.3 583.9,162.3 582.8,158.9 581.7,155.4 580.6,152.3 579.5,149.3Z" fill="#809db7"/>
<path d="M180.0,301.2 186.2,297.5 192.5,295.0 201.2,293.0 208.8,292.0 216.2,295.5 225.0,299.5 233.8,302.5 242.0,305.5 242.0,362.5 246.2,364.0 251.2,365.8 256.2,366.2 261.2,367.2 265.5,370.2 269.0,374.5 273.0,379.0 277.5,383.5 282.5,386.8 285.5,389.8 284.8,393.5 280.0,394.2 275.0,392.2 270.5,388.2 266.5,383.5 262.5,378.5 259.0,374.5 255.0,371.0 250.0,368.2 245.0,365.8 238.8,363.5 232.5,360.5 227.5,357.0 223.8,358.0 220.0,361.2 215.5,360.0 213.8,356.2 210.0,355.5 207.0,358.8 208.8,362.5 212.0,364.5 207.5,367.0 201.2,368.8 196.2,370.5 190.0,373.8 183.8,376.2 177.5,378.0 170.0,380.0 161.2,382.5 152.5,384.5 160.0,380.8 168.8,378.0 176.2,375.0 182.5,371.2 187.0,367.0 187.5,364.5 183.8,363.0 178.8,363.0 174.5,360.5 172.0,356.2 171.2,352.5 167.5,350.8 164.5,348.0 163.8,343.8 166.2,340.8 170.5,338.8 176.2,338.0 179.5,335.0 182.0,332.0 187.5,330.0 184.5,328.0 178.8,327.0 174.5,325.0 168.8,321.5 171.2,317.5 175.0,315.5 181.2,315.0 187.0,317.5 187.5,315.5 184.5,312.0 180.0,309.0 178.8,304.5Z" fill="#1f4a6b"/>
<path d="M152.0,323.0 154.5,323.8 157.0,327.0 155.0,327.5 152.5,325.5Z" fill="#1f4a6b"/>
<path d="M156.0,348.8 159.0,348.5 160.5,351.0 157.5,351.8Z" fill="#1f4a6b"/>
<path d="M193.0,376.2 197.0,374.5 201.0,375.0 199.5,378.0 195.5,380.5 193.0,379.0Z" fill="#1f4a6b"/>
<path d="M307.5,354.0 309.0,352.0 311.5,352.2 312.8,354.2 311.0,356.2 308.5,355.8Z" fill="#214f70"/>
<path d="M301.5,355.5 303.0,355.0 303.2,356.5 301.8,356.8Z" fill="#214f70"/>
<path d="M327.5,360.5 330.0,358.8 333.0,360.0 334.0,363.0 331.5,364.0 328.5,363.0Z" fill="#214f70"/>
<path d="M339.5,364.0 343.0,363.5 346.5,364.5 346.0,366.0 341.5,365.8Z" fill="#214f70"/>
<path d="M344.5,367.0 347.0,366.8 347.5,368.5 345.2,368.8Z" fill="#214f70"/>
<path d="M347.5,368.0 350.0,367.0 353.5,368.5 354.5,371.5 351.5,373.0 349.0,371.0Z" fill="#214f70"/>
<path d="M355.5,380.5 358.0,377.5 361.5,377.0 365.5,379.0 370.0,383.0 371.5,386.0 368.0,388.5 364.5,392.0 361.5,393.0 359.5,389.5 356.5,386.0Z" fill="#214f70"/>
</g>
<g>
<text x="206.0" y="132.0" class="n">20</text><text x="223.0" y="131.0" class="a">WA</text>
<text x="195.5" y="160.0" class="n">40</text><text x="211.0" y="159.0" class="a">OR</text>
<text x="246.0" y="167.5" class="n">7</text><text x="246.0" y="176.5" class="a">ID</text>
<text x="291.0" y="142.5" class="n">42</text><text x="291.0" y="151.0" class="a">MT</text>
<text x="299.5" y="183.2" class="n">39</text><text x="299.5" y="191.5" class="a">WY</text>
<text x="218.7" y="207.5" class="n">43</text><text x="220.0" y="216.5" class="a">NV</text>
<text x="187.5" y="227.5" class="n">38</text><text x="192.5" y="236.5" class="a">CA</text>
<text x="260.5" y="217.5" class="n">4</text><text x="260.5" y="225.7" class="a">UT</text>
<text x="311.0" y="226.5" class="n">34</text><text x="311.0" y="234.5" class="a">CO</text>
<text x="253.0" y="264.0" class="n">21</text><text x="253.0" y="272.5" class="a">AZ</text>
<text x="301.7" y="267.0" class="n">45</text><text x="301.7" y="276.0" class="a">NM</text>
<text x="357.5" y="144.5" class="n">14</text><text x="357.5" y="153.0" class="a">ND</text>
<text x="356.0" y="173.5" class="n">8</text><text x="356.0" y="182.5" class="a">SD</text>
<text x="363.0" y="203.2" class="n">5</text><text x="363.7" y="213.0" class="a">NE</text>
<text x="401.7" y="155.2" class="n">33</text><text x="401.7" y="163.7" class="a">MN</text>
<text x="436.7" y="171.5" class="n">3</text><text x="436.7" y="179.5" class="a">WI</text>
<text x="476.0" y="183.2" class="n">25</text><text x="480.0" y="190.7" class="a">MI</text>
<text x="410.5" y="199.0" class="n">19</text><text x="410.5" y="207.0" class="a">IA</text>
<text x="447.0" y="215.5" class="n">49</text><text x="447.0" y="224.5" class="a">IL</text>
<text x="472.0" y="214.0" class="n">2</text><text x="472.0" y="220.7" class="a">IN</text>
<text x="497.5" y="213.2" class="n">46</text><text x="495.0" y="220.7" class="a">OH</text>
<text x="370.0" y="234.0" class="n">18</text><text x="368.7" y="241.5" class="a">KS</text>
<text x="420.5" y="235.5" class="n">26</text><text x="418.7" y="243.0" class="a">MO</text>
<text x="487.5" y="238.2" class="n">35</text><text x="482.5" y="245.7" class="a">KY</text>
<text x="518.7" y="227.0" class="n">30</text><text x="515.0" y="234.0" class="a">WV</text>
<text x="377.5" y="264.5" class="n">12</text><text x="378.7" y="272.7" class="a">OK</text>
<text x="420.0" y="270.5" class="n">22</text><text x="418.7" y="278.0" class="a">AR</text>
<text x="461.0" y="263.5" class="n">1</text><text x="475.0" y="261.0" class="a">TN</text>
<text x="447.0" y="287.0" class="n">41</text><text x="447.0" y="295.0" class="a">MS</text>
<text x="472.5" y="284.0" class="n">24</text><text x="472.5" y="291.5" class="a">AL</text>
<text x="503.0" y="285.0" class="n">16</text><text x="508.0" y="291.5" class="a">GA</text>
<text x="523.7" y="272.5" class="n">29</text><text x="528.0" y="279.0" class="a">SC</text>
<text x="364.0" y="302.5" class="n">10</text><text x="364.0" y="311.0" class="a">TX</text>
<text x="423.0" y="304.0" class="n">36</text><text x="424.0" y="311.0" class="a">LA</text>
<text x="538.0" y="199.0" class="n">31</text><text x="538.0" y="206.0" class="a">PA</text>
<text x="535.5" y="237.0" class="n">13</text><text x="548.0" y="235.7" class="a">VA</text>
<text x="533.0" y="255.5" class="n">9</text><text x="545.0" y="255.0" class="a">NC</text>
<text x="525.5" y="327.0" class="n">6</text><text x="531.0" y="336.5" class="a">FL</text>
<text x="554.3" y="172.7" class="n">27</text><text x="554.3" y="180.0" class="a">NY</text>
<text x="592.5" y="142.0" class="n">11</text><text x="589.0" y="148.0" class="a">ME</text>
<text x="214.0" y="327.0" class="n">50</text><text x="214.0" y="336.0" class="a">AK</text>
<text x="363" y="386.8" class="a">HI</text>
</g>
<text x="379" y="385.3" style="font-weight:bold;font-size:12px;fill:#6f675c;text-anchor:middle">47</text>
<g class="ld">
<path d="M615.5,120H609.5L575,154.5"/>
<path d="M615.5,135.7H607L579.5,163.5"/>
<path d="M615.5,151.4H610L587.8,169"/>
<path d="M615.5,167.2H607.8L592.8,177.4"/>
<path d="M615.5,182.9H577"/>
<path d="M615.5,198.6H569"/>
<path d="M615.5,214.4H563.5"/>
<path d="M615.5,230.1H570L562.2,220.4"/>
</g>
<g>
<rect x="615.5" y="115.3" width="9.7" height="9.4" fill="#487499"/>
<text x="629.2" y="124.3" class="sa">VT</text><text x="644.6" y="124.4" class="sn" textLength="13.4" lengthAdjust="spacingAndGlyphs">28</text>
<rect x="615.5" y="131.0" width="9.7" height="9.4" fill="#6b8ead"/>
<text x="629.2" y="140.0" class="sa">NH</text><text x="644.6" y="140.1" class="sn" textLength="13.4" lengthAdjust="spacingAndGlyphs">17</text>
<rect x="615.5" y="146.8" width="9.7" height="9.4" fill="#2f6183"/>
<text x="629.2" y="155.8" class="sa">MA</text><text x="644.6" y="155.9" class="sn" textLength="13.4" lengthAdjust="spacingAndGlyphs">37</text>
<rect x="615.5" y="162.5" width="9.7" height="9.4" fill="#3d6c8f"/>
<text x="629.2" y="171.5" class="sa">RI</text><text x="644.6" y="171.6" class="sn" textLength="13.4" lengthAdjust="spacingAndGlyphs">32</text>
<rect x="615.5" y="178.2" width="9.7" height="9.4" fill="#214d6e"/>
<text x="629.2" y="187.2" class="sa">CT</text><text x="644.6" y="187.3" class="sn" textLength="13.4" lengthAdjust="spacingAndGlyphs">48</text>
<rect x="615.5" y="194.0" width="9.7" height="9.4" fill="#245475"/>
<text x="629.2" y="203.0" class="sa">NJ</text><text x="644.6" y="203.1" class="sn" textLength="13.4" lengthAdjust="spacingAndGlyphs">44</text>
<rect x="615.5" y="209.7" width="9.7" height="9.4" fill="#7293b1"/>
<text x="629.2" y="218.7" class="sa">DE</text><text x="644.6" y="218.8" class="sn" textLength="13.4" lengthAdjust="spacingAndGlyphs">15</text>
<rect x="615.5" y="225.4" width="9.7" height="9.4" fill="#6187a8"/>
<text x="629.2" y="234.4" class="sa">MD</text><text x="644.6" y="234.5" class="sn" textLength="13.4" lengthAdjust="spacingAndGlyphs">20</text>
</g>
<ellipse class="rd" cx="187.9" cy="229.6" rx="29.6" ry="28.9"/>
<ellipse class="rd" cx="443" cy="214.2" rx="20" ry="23.3"/>
<circle class="rd" cx="551" cy="170.7" r="16.6"/>
<ellipse class="rd" cx="641" cy="175" rx="39" ry="32.7"/>
<rect x="443.7" y="368" width="9.8" height="9.6" fill="#a3b8d0"/>
<text x="458.7" y="375.8" class="lg" textLength="31.3" lengthAdjust="spacingAndGlyphs">1 = BEST</text>
<rect x="522.2" y="368" width="10" height="9.8" fill="#1f4a6b"/>
<text x="537" y="375.8" class="lg" textLength="46.8" lengthAdjust="spacingAndGlyphs">50 = WORST</text>
<rect x="443.4" y="388.7" width="141" height="11.3" fill="url(#bar)"/>
<text x="32" y="422.1" style="font-family:'Liberation Serif',serif;font-size:9.5px;fill:#222" textLength="326.5" lengthAdjust="spacingAndGlyphs">Source: “Unaccountable and Unaffordable,” American Legislative Exchange Council, 2020.</text>
<rect x="0" y="447.6" width="800" height="2.4" fill="url(#foot)"/>
<g id="logo" filter="url(#fat)" style="font-weight:bold;font-size:34.2px"><text x="0" y="0" transform="translate(615.4,445.6) scale(.532,1)" fill="#8a8c8f">CHICAGO</text><text x="0" y="0" transform="translate(704.9,445.6) scale(.5,1)" fill="#74202f">BOOTH</text></g>
<g id="crest">
<path d="M770.7,421.8H798.9V433C798.9,441 792,446 784.8,447.4C777.5,446 770.7,441 770.7,433Z" fill="#fff" stroke="#a8a8a8" stroke-width=".8"/>
<rect x="770.7" y="421.8" width="28.2" height="8" fill="url(#ch)"/>
<rect x="774.6" y="422.8" width="20.2" height="5.6" fill="#c9c9c9" stroke="#909090" stroke-width=".5"/>
<path d="M775.5,424.3h18.400M775.500,425.700h18.400M775.500,427.100h18.400M784.700,422.800v5.600" stroke="#a0a0a0" stroke-width=".6" fill="none"/>
<path d="M772.600,434C774,431 778.500,430.500 781.200,432.600C782.800,430.600 786.800,430.600 788.400,432.600C791,430.500 795.600,431 797,434C797.800,438 794.600,441.800 791,442.800C789.400,444.800 786.600,446.200 784.800,446.500C783,446.200 780.200,444.800 778.600,442.800C775,441.800 771.800,438 772.600,434Z" fill="#b7b7b7"/>
<path d="M774.500,435.500c2,-1.800 4.500,-1.200 5.500,1m1.500,-2.200c1.500,-1.500 4.500,-1.500 6,0m1.500,2.200c1,-2.200 4,-2.800 6,-1M775.500,438.800c2.500,1.500 5.500,1.500 7.500,-.5m3.500,.5c2,1.500 5.500,1.500 8,-.5M779,441.800c2,1.600 9.500,1.600 11.500,0M784.800,433.500v10.500M777,433.300l1.500,2M792.500,433.300l-1.500,2" stroke="#8f8f8f" stroke-width=".7" fill="none"/>
<path d="M776.500,437.200c1.500,.8 3.500,.8 5,0m6.500,0c1.500,.8 3.500,.8 5,0M781.500,440.400c1.800,1 4.800,1 6.600,0M780,434.200c1,.8 2,.8 3,0m3.600,0c1,.8 2,.8 3,0" stroke="#e9e9e9" stroke-width=".6" fill="none"/>
</g>
</svg>
</body></html>
